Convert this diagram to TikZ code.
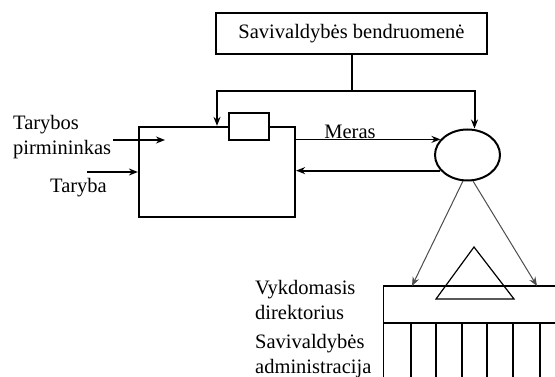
\documentclass[tikz,border=0pt]{standalone}
\usepackage{fontspec}
\setmainfont{Liberation Serif}
\usetikzlibrary{shapes.geometric,arrows.meta}

\begin{document}
\begin{tikzpicture}[x=1pt,y=-1pt,>={Stealth[length=9pt,width=7pt]},draw=black!100]
	\fontsize{20.5}{25}\selectfont
	\def \busline{91}
	\def \adminlevel{323}
	\def \floor{377}

	\tikzstyle{box}=[rectangle,draw=black!100,line width=2.2pt,inner sep=0pt]
	\tikzstyle{thinbox}=[rectangle,draw=black!100,line width=1.2pt,inner sep=0pt]
	\tikzstyle{mayor}=[ellipse,draw=black!100,line width=2pt,inner sep=0pt,minimum width=65pt,minimum height=51pt]
	\tikzstyle{label}=[align=left,anchor=west,inner sep=0pt]
	\tikzstyle{link}=[->,line width=2pt]
	\tikzstyle{feed}=[->,line width=1.3pt]
	\tikzstyle{ray}=[->,draw=black!70,line width=1pt]

	\useasboundingbox (0,0) rectangle (555,\floor);
	\clip (0,0) rectangle (555,\floor);

	% boxes
	\node[box,minimum width=271pt,minimum height=41pt] (comm) at (351.5,33.5) {Savivaldybės bendruomenė};
	\node[box,minimum width=156pt,minimum height=90pt] (council) at (217,172) {};
	\node[thinbox,fill=white,line width=1.6pt,minimum width=40pt,minimum height=27pt] (board) at (249,126.5) {};
	\node[mayor] (mayor) at (467.5,155) {};
	\node[thinbox,minimum width=195pt,minimum height=37pt,anchor=north west] (director) at (383,286) {};
	\node[thinbox,minimum width=195pt,minimum height=70pt,anchor=north west] (admin) at (383,\adminlevel) {};
	\draw[line width=2.4pt] (director.north west) -- (director.north east);
	\draw[line width=2.4pt] (admin.north west) -- (admin.north east);

	% labels
	\node[label] (chair) at (13,137) {Tarybos\\pirmininkas};
	\node[label] (taryba) at (50,188) {Taryba};
	\node (meras) at (350,132) {Meras};
	\node[label] (directorlbl) at (255,300) {Vykdomasis\\direktorius};
	\node[label] (adminlbl) at (255,356) {Savivaldybės\\administracija};

	\coordinate (bus) at (0,\busline);
	\coordinate (split) at (comm.south |- bus);
	\coordinate (chairtail) at (113,140);
	\coordinate (chairtip) at (165,140);
	\coordinate (tarybatail) at (87,172);

	\draw[line width=2pt] (comm.south) -- (split);
	\draw[link] (split) -| (council.north);
	\draw[link] (split) -| ([xshift=7pt]mayor.north);

	\draw[feed] (chairtail) -- (chairtip);
	\draw[feed] (tarybatail) -- (council.west);
	\draw[feed] (council.east |- mayor.150) -- (mayor.150);
	\draw[link] (mayor.210) -- (mayor.210 -| council.east);

	\draw[ray] (mayor.260) -- ([xshift=29pt]director.north west);
	\draw[ray] (mayor.282) -- ([xshift=154pt]director.north west);

	% triangle and divisions
	\draw[line width=1.2pt] (436,299) -- (474,247) -- (514,299) -- cycle;
	\foreach \x/\w in {411/1.2,436/2.4,462/2.4,487/1.2,513/2.4,540/2.4}
		\draw[line width=\w pt] (\x,\adminlevel) -- (\x,\floor);
\end{tikzpicture}
\end{document}
